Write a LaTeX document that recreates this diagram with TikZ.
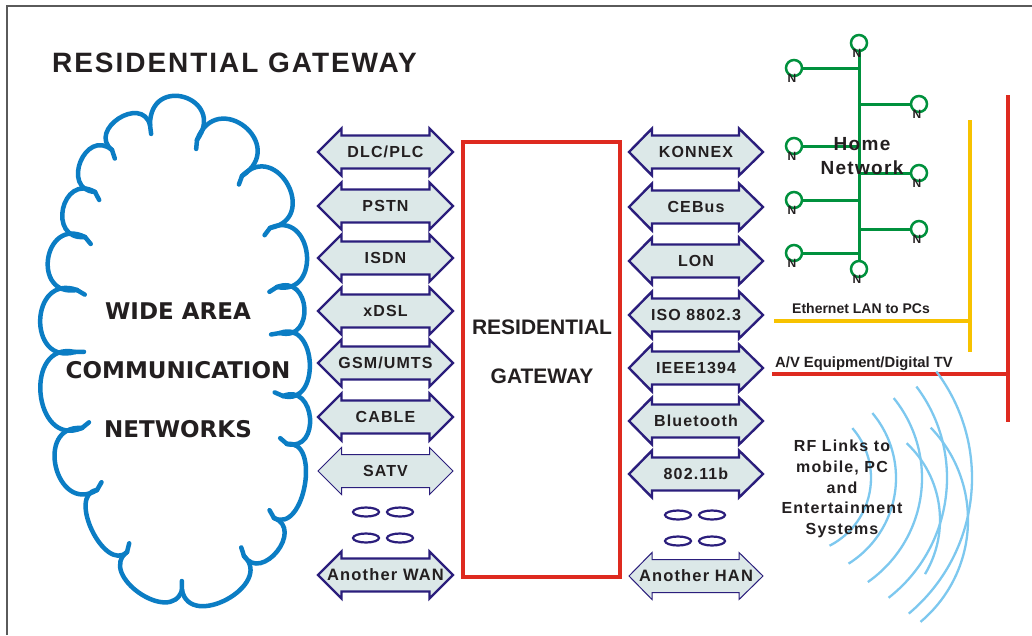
\documentclass[tikz,border=0pt]{standalone}
\usepackage{fontspec}
\setmainfont{Liberation Sans}
\newfontfamily\tracked[LetterSpace=7]{Liberation Sans}
\newfontfamily\cloudfont{DejaVu Sans}
\usetikzlibrary{positioning,calc}

\definecolor{ink}{HTML}{231F20}
\definecolor{framegray}{HTML}{5A5A5A}
\definecolor{cloudblue}{HTML}{0B7DC4}
\definecolor{arrowblue}{HTML}{2B1E7C}
\definecolor{arrowfill}{HTML}{DCE8E8}
\definecolor{gwred}{HTML}{DE2A1F}
\definecolor{netgreen}{HTML}{00913D}
\definecolor{lanyellow}{HTML}{F7C200}
\definecolor{wavecol}{HTML}{7DC8EF}

\tikzset{
  frameline/.style={draw=framegray, line width=1.5pt},
  title/.style={font=\tracked\bfseries\fontsize{28}{28}\selectfont, text=ink, inner sep=0pt},
  wantext/.style={font=\cloudfont\bfseries\fontsize{23}{23}\selectfont, text=ink, inner sep=0pt, text height=16.8pt, text depth=0pt},
  puff/.style={draw=cloudblue, line width=4.5pt, line cap=round},
  dblarrow/.style={draw=arrowblue, fill=arrowfill, line join=miter},
  lbl/.style={font=\tracked\bfseries\fontsize{#1}{#1}\selectfont, text=ink, inner sep=0pt, text height=11.5pt, text depth=0pt},
  lbl/.default=16,
  gwbox/.style={draw=gwred, line width=4pt, minimum width=157pt, minimum height=435pt, inner sep=0pt},
  gwtext/.style={font=\bfseries\fontsize{21}{49}\selectfont, text=ink, align=center, inner sep=0pt},
  dots/.style={draw=arrowblue, line width=2.2pt},
  hnode/.style={circle, draw=netgreen, fill=white, line width=2.5pt, minimum size=16pt, inner sep=0pt},
  hbus/.style={draw=netgreen, line width=3pt},
  nlbl/.style={font=\bfseries\fontsize{12}{12}\selectfont, text=ink, inner sep=0pt},
  homelbl/.style={font=\tracked\bfseries\fontsize{19}{24}\selectfont, text=ink, align=center, inner sep=0pt},
  lanline/.style={draw=lanyellow, line width=4pt},
  avline/.style={draw=gwred, line width=4pt},
  linelbl/.style={font=\bfseries\fontsize{#1}{#1}\selectfont, text=ink, inner sep=0pt},
  linelbl/.default=14,
  wavearc/.style={draw=wavecol, line width=2.3pt},
  rflbl/.style={font=\tracked\bfseries\fontsize{16}{20.8}\selectfont, text=ink, align=center, inner sep=0pt}
}

\begin{document}
\begin{tikzpicture}[x=1pt, y=-1pt]
\useasboundingbox (0,0) rectangle (1032,635);
\fill[white] (0,0) rectangle (1032,635);
\draw[frameline] (7,635) -- (7,6) -- (1032,6);

\node[title, anchor=base west] (title) at (52,72) {RESIDENTIAL GATEWAY};

% wide area cloud
\coordinate (cc) at (178,350);
\coordinate (j1) at (150,125);
\coordinate (j2) at (197,140);
\coordinate (j3) at (242,176);
\coordinate (j4) at (270,228);
\coordinate (j5) at (277,287);
\coordinate (j6) at (280,333);
\coordinate (j7) at (283,396);
\coordinate (j8) at (287,444);
\coordinate (j9) at (274,518);
\coordinate (j10) at (244,556);
\coordinate (j11) at (182,590);
\coordinate (j12) at (127,552);
\coordinate (j13) at (97,490);
\coordinate (j14) at (82,428);
\coordinate (j15) at (75,352);
\coordinate (j16) at (77,290);
\coordinate (j17) at (85,237);
\coordinate (j18) at (95,192);
\coordinate (j19) at (112,150);
\foreach \a/\b/\k in {j1/j2/1.05, j2/j3/.98, j3/j4/.86, j4/j5/.79, j5/j6/.79,
    j6/j7/.63, j7/j8/.73, j8/j9/.46, j9/j10/.67, j10/j11/.59, j11/j12/.56,
    j12/j13/.45, j13/j14/.76, j14/j15/.70, j15/j16/.81, j16/j17/.87,
    j17/j18/.84, j18/j19/.77, j19/j1/.70}
  \draw[puff] (\a) .. controls ($(\a)!\k!108:(\b)$) and ($(\b)!\k!-108:(\a)$) .. (\b);
\foreach \j in {j1,j2,j3,j4,j5,j6,j7,j8,j9,j10,j11,j12,j13,j14,j15,j16,j17,j18,j19}
  \draw[puff] (\j) -- ($(\j)!9pt!(cc)$);
\node[wantext] (wide) at (178,311) {WIDE AREA};
\node[wantext] (comm) at (178,370) {COMMUNICATION};
\node[wantext] (nets) at (178,429) {NETWORKS};

% WAN links
\foreach \y/\lab/\w/\s [count=\i] in {152/{DLC/PLC}/2.4/16, 206/PSTN/2.4/16,
    258/ISDN/2.4/16, 311/xDSL/2.4/16, 363/{GSM/UMTS}/2.4/16, 417/CABLE/2.4/16,
    471/SATV/1/16, 575/{Another WAN}/2.4/16.5}{
  \draw[dblarrow, line width=\w pt, shift={(385.5,\y)}] (-67.5,0) -- (-44,-23.5) -- (-44,-16.5)
    -- (44,-16.5) -- (44,-23.5) -- (67.5,0) -- (44,23.5) -- (44,16.5) -- (-44,16.5) -- (-44,23.5) -- cycle;
  \node[lbl=\s] (wan\i) at (385.5,\y) {\lab};
}
\foreach \x in {366,400}
  \foreach \y in {512,538}
    \draw[dots] (\x,\y) ellipse[x radius=13, y radius=4.5];

% gateway
\node[gwbox] (gw) at (541.5,359.5) {};
\node[gwtext] (gwlabel) at (542,352) {RESIDENTIAL\\GATEWAY};

% HAN links
\foreach \y/\lab/\w/\s [count=\i] in {152/KONNEX/2.4/16, 207/CEBus/2.4/16,
    261/LON/2.4/16, 315/{ISO 8802.3}/2.4/16, 368/IEEE1394/2.4/16, 421/Bluetooth/2.4/16,
    474/802.11b/2.4/16, 576/{Another HAN}/1/16.5}{
  \draw[dblarrow, line width=\w pt, shift={(696,\y)}] (-67,0) -- (-44,-23.5) -- (-44,-16.5)
    -- (43,-16.5) -- (43,-23.5) -- (67,0) -- (43,23.5) -- (43,16.5) -- (-44,16.5) -- (-44,23.5) -- cycle;
  \node[lbl=\s] (han\i) at (696,\y) {\lab};
}
\foreach \x in {678,712}
  \foreach \y in {515,541}
    \draw[dots] (\x,\y) ellipse[x radius=13, y radius=4.5];

% home network
\foreach \n/\x/\y in {ht/859/43, hl1/794/68, hr1/919/104, hl2/794/146, hr2/919/173,
    hl3/794/200, hr3/919/229, hl4/794/253, hb/859/269}
  \node[hnode] (\n) at (\x,\y) {};
\draw[hbus] (ht) -- (hb);
\foreach \n in {hl1,hr1,hl2,hr2,hl3,hr3,hl4}
  \draw[hbus] (\n) -- (\n -| ht);
\foreach \n in {ht,hl1,hr1,hl2,hr2,hl3,hr3,hl4,hb}
  \node[nlbl] (\n-N) at ($(\n)+(-2,10)$) {N};
\node[homelbl] (homenet) at (862,156) {Home\\Network};

% LAN and A/V lines
\coordinate (lanL) at (774,321);
\coordinate (lanT) at (970,120);
\coordinate (lanB) at (970,352);
\draw[lanline] (lanL) -- (lanL -| lanT);
\draw[lanline] (lanT) -- (lanB);
\node[linelbl, anchor=base west] (lanlbl) at (792,313) {Ethernet LAN to PCs};
\coordinate (avL) at (772,374);
\coordinate (avT) at (1008,95);
\coordinate (avB) at (1008,422);
\draw[avline] (avL) -- (avL -| avT);
\draw[avline] (avT) -- (avB);
\node[linelbl=14.8, anchor=base west] (avlbl) at (775,367) {A/V Equipment/Digital TV};

% RF waves
\foreach \r/\p/\q in {76/-41/63, 101/-40/58, 127/-39/55, 152/-37/52, 177/-37/50}
  \draw[wavearc] (795,478) ++(\p:\r) arc[start angle=\p, end angle=\q, radius=\r];
\foreach \r/\p/\q in {105/-47/31, 133/-44/50}
  \draw[wavearc] (835,520) ++(\p:\r) arc[start angle=\p, end angle=\q, radius=\r];
\node[rflbl] (rf) at (842,489) {RF Links to\\mobile, PC\\and\\Entertainment\\Systems};
\end{tikzpicture}
\end{document}
